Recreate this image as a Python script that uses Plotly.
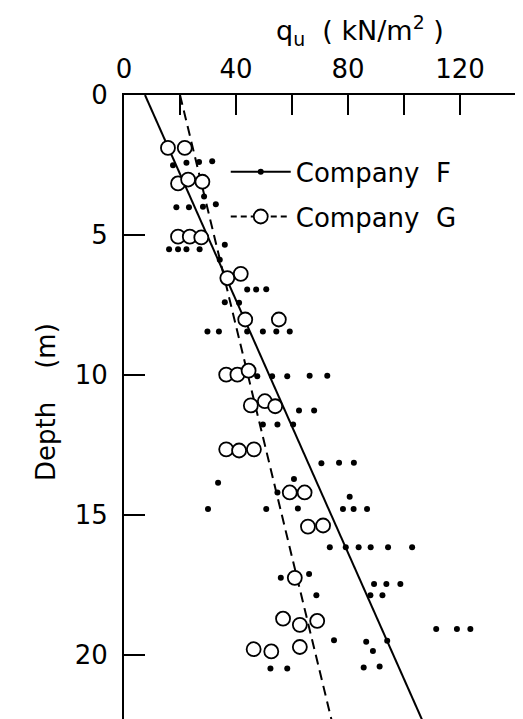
import plotly.graph_objects as go

# Company F (small filled dots): q_u (kN/m2), depth (m)
f_qu = [17.5, 22.3, 26.8, 31.5, 28.6, 18.7, 23.2, 28.2, 32.8, 36.0,
        16.1, 19.3, 22.3, 27.0, 34.2, 44.0, 47.2, 50.8, 36.0, 41.1,
        29.8, 33.9, 44.0, 49.6, 54.4, 59.2, 47.6, 52.9, 58.3, 66.3,
        72.6, 62.5, 67.9, 49.6, 54.8, 60.4, 70.5, 76.8, 82.1, 33.6,
        60.7, 54.8, 30.0, 50.8, 62.1, 80.6, 78.2, 82.0, 86.8, 73.5,
        79.2, 83.8, 88.1, 94.3, 102.9, 56.0, 66.1, 68.7, 89.3, 93.7,
        98.7, 88.0, 92.3, 111.5, 118.9, 123.7, 75.0, 86.5, 94.0, 88.9,
        52.3, 58.3, 85.6, 91.3]
f_depth = [2.51, 2.42, 2.39, 2.37, 3.63, 4.01, 4.01, 3.99, 3.90, 5.35,
           5.51, 5.51, 5.51, 5.51, 5.89, 6.95, 6.95, 6.94, 7.40, 7.42,
           8.45, 8.45, 8.45, 8.45, 8.45, 8.45, 10.05, 10.05, 10.05, 10.03,
           10.03, 11.27, 11.27, 11.77, 11.77, 11.77, 13.16, 13.14, 13.14, 13.85,
           13.72, 14.20, 14.79, 14.79, 14.77, 14.35, 14.79, 14.79, 14.79, 16.16,
           16.16, 16.16, 16.16, 16.16, 16.16, 17.25, 17.11, 17.87, 17.47, 17.47,
           17.47, 17.87, 17.87, 19.08, 19.08, 19.08, 19.48, 19.53, 19.50, 19.86,
           20.49, 20.49, 20.45, 20.42]

# Company G (open circles)
g_qu = [15.7, 21.7, 19.3, 22.9, 28.0, 19.3, 23.5, 27.6, 36.9, 41.7,
        43.3, 55.3, 36.5, 40.5, 44.5, 45.3, 50.3, 54.0, 36.5, 41.1,
        46.4, 59.2, 64.5, 65.7, 71.1, 61.0, 56.8, 62.8, 69.0, 46.3,
        52.6, 62.8]
g_depth = [1.89, 1.89, 3.16, 3.02, 3.10, 5.06, 5.06, 5.09, 6.54, 6.39,
           8.02, 8.02, 9.99, 9.99, 9.85, 11.09, 10.94, 11.12, 12.66, 12.70,
           12.66, 14.20, 14.20, 15.42, 15.38, 17.25, 18.71, 18.93, 18.79, 19.80,
           19.88, 19.72]

# fitted trend lines
line_depth = [0.0, 22.4]
f_line_qu = [7.5, 106.8]
g_line_qu = [20.0, 74.3]

x_tickvals = [0, 20, 40, 60, 80, 100, 120]
x_ticktext = ["0", "", "40", "", "80", "", "120"]
y_tickvals = [0, 5, 10, 15, 20]
y_ticktext = ["0", "5", "10", "15", "20"]

FONT = "DejaVu Sans"

fig = go.Figure()
fig.add_trace(go.Scatter(x=f_line_qu, y=line_depth, mode="lines",
                         line=dict(color="black", width=2), showlegend=False))
fig.add_trace(go.Scatter(x=g_line_qu, y=line_depth, mode="lines",
                         line=dict(color="black", width=2, dash="10px,6px"),
                         showlegend=False))
fig.add_trace(go.Scatter(x=f_qu, y=f_depth, mode="markers",
                         marker=dict(color="black", size=6, symbol="circle"),
                         showlegend=False))
fig.add_trace(go.Scatter(x=g_qu, y=g_depth, mode="markers",
                         marker=dict(color="white", size=14, symbol="circle",
                                     line=dict(color="black", width=1.8)),
                         showlegend=False))
# legend entries
fig.add_trace(go.Scatter(x=[None], y=[None], mode="lines+markers", name="Company  F",
                         line=dict(color="black", width=2),
                         marker=dict(color="black", size=6), legendgroup="F"))
fig.add_trace(go.Scatter(x=[None], y=[None], mode="lines+markers", name="Company  G",
                         line=dict(color="black", width=2, dash="6px,4px"),
                         marker=dict(color="white", size=14,
                                     line=dict(color="black", width=1.8)),
                         legendgroup="G"))

fig.update_layout(
    width=523, height=719,
    margin=dict(l=116, r=8, t=87, b=3),
    paper_bgcolor="white", plot_bgcolor="white",
    font=dict(family=FONT, size=26, color="black"),
    showlegend=True,
    legend=dict(x=0.255, y=0.915, xanchor="left", yanchor="top",
                bgcolor="rgba(0,0,0,0)", font=dict(size=26, family=FONT),
                itemwidth=60, tracegroupgap=8, traceorder="grouped"),
    xaxis=dict(side="top", range=[0, 142.5], tickvals=x_tickvals, ticktext=x_ticktext,
               ticks="inside", ticklen=20, tickwidth=1.5, tickcolor="black",
               showline=True, linecolor="black", linewidth=2, mirror=True,
               showgrid=False, zeroline=False, tickfont=dict(size=26),
               ticklabelstandoff=5),
    yaxis=dict(range=[22.4, 0], tickvals=y_tickvals, ticktext=y_ticktext,
               ticks="inside", ticklen=21, tickwidth=1.5, tickcolor="black",
               showline=True, linecolor="black", linewidth=2, mirror=True,
               showgrid=False, zeroline=False, tickfont=dict(size=26),
               ticklabelstandoff=9),
    annotations=[
        dict(text="q<sub>u</sub>  ( kN/m<sup>2</sup> )", xref="paper", yref="paper",
             x=(352 - 116) / 399, y=1 + (87 - 22) / 629, xanchor="center", yanchor="middle",
             showarrow=False, font=dict(size=27, family=FONT)),
        dict(text="Depth\u00a0\u00a0\u00a0\u00a0(m)", xref="paper", yref="paper",
             x=-(116 - 38) / 399, y=1 - (395 - 87) / 629, xanchor="center", yanchor="middle",
             textangle=-90, showarrow=False, font=dict(size=26, family=FONT)),
    ],
)

fig.write_html("out.html")
